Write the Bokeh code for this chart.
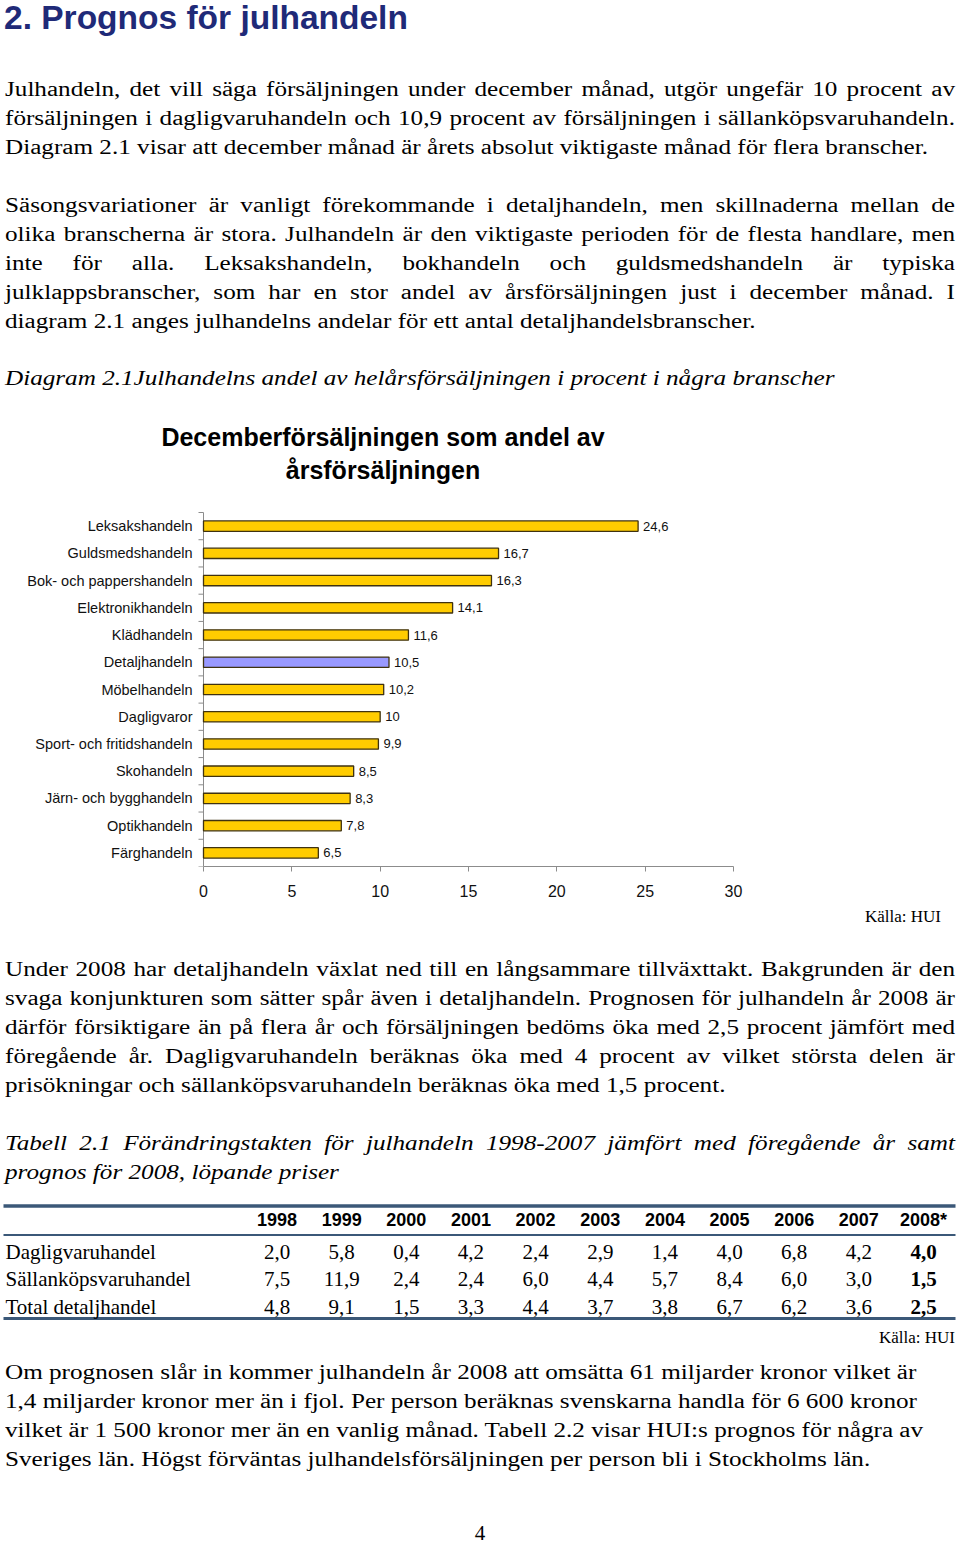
import math
from bokeh.plotting import figure
from bokeh.models import Range1d, FixedTicker, Div, ColumnDataSource
from bokeh.layouts import column
from bokeh.embed import file_html
from bokeh.resources import INLINE
from bokeh.core.properties import value

# ---------------- data ----------------
heading = "2. Prognos för julhandeln"

para1 = [
    "Julhandeln, det vill säga försäljningen under december månad, utgör ungefär 10 procent av",
    "försäljningen i dagligvaruhandeln och 10,9 procent av försäljningen i sällanköpsvaruhandeln.",
    "Diagram 2.1 visar att december månad är årets absolut viktigaste månad för flera branscher.",
]
para2 = [
    "Säsongsvariationer är vanligt förekommande i detaljhandeln, men skillnaderna mellan de",
    "olika branscherna är stora. Julhandeln är den viktigaste perioden för de flesta handlare, men",
    "inte för alla. Leksakshandeln, bokhandeln och guldsmedshandeln är typiska",
    "julklappsbranscher, som har en stor andel av årsförsäljningen just i december månad. I",
    "diagram 2.1 anges julhandelns andelar för ett antal detaljhandelsbranscher.",
]
diagram_caption = "Diagram 2.1Julhandelns andel av helårsförsäljningen i procent i några branscher"
chart_title = ["Decemberförsäljningen som andel av", "årsförsäljningen"]

categories = [
    "Leksakshandeln", "Guldsmedshandeln", "Bok- och pappershandeln", "Elektronikhandeln",
    "Klädhandeln", "Detaljhandeln", "Möbelhandeln", "Dagligvaror",
    "Sport- och fritidshandeln", "Skohandeln", "Järn- och bygghandeln", "Optikhandeln",
    "Färghandeln",
]
shares = [24.6, 16.7, 16.3, 14.1, 11.6, 10.5, 10.2, 10, 9.9, 8.5, 8.3, 7.8, 6.5]
highlight = "Detaljhandeln"
x_ticks = [0, 5, 10, 15, 20, 25, 30]
x_max = 30
source_note = "Källa: HUI"

para3 = [
    "Under 2008 har detaljhandeln växlat ned till en långsammare tillväxttakt. Bakgrunden är den",
    "svaga konjunkturen som sätter spår även i detaljhandeln. Prognosen för julhandeln år 2008 är",
    "därför försiktigare än på flera år och försäljningen bedöms öka med 2,5 procent jämfört med",
    "föregående år. Dagligvaruhandeln beräknas öka med 4 procent av vilket största delen är",
    "prisökningar och sällanköpsvaruhandeln beräknas öka med 1,5 procent.",
]
table_caption = [
    "Tabell 2.1 Förändringstakten för julhandeln 1998-2007 jämfört med föregående år samt",
    "prognos för 2008, löpande priser",
]
years = ["1998", "1999", "2000", "2001", "2002", "2003", "2004", "2005", "2006", "2007", "2008*"]
row_names = ["Dagligvaruhandel", "Sällanköpsvaruhandel", "Total detaljhandel"]
dagligvaruhandel = [2.0, 5.8, 0.4, 4.2, 2.4, 2.9, 1.4, 4.0, 6.8, 4.2, 4.0]
sallankopsvaruhandel = [7.5, 11.9, 2.4, 2.4, 6.0, 4.4, 5.7, 8.4, 6.0, 3.0, 1.5]
total_detaljhandel = [4.8, 9.1, 1.5, 3.3, 4.4, 3.7, 3.8, 6.7, 6.2, 3.6, 2.5]
para4 = [
    "Om prognosen slår in kommer julhandeln år 2008 att omsätta 61 miljarder kronor vilket är",
    "1,4 miljarder kronor mer än i fjol. Per person beräknas svenskarna handla för 6 600 kronor",
    "vilket är 1 500 kronor mer än en vanlig månad. Tabell 2.2 visar HUI:s prognos för några av",
    "Sveriges län. Högst förväntas julhandelsförsäljningen per person bli i Stockholms län.",
]
page_number = "4"

# ---------------- styling / layout ----------------
W = 960
TEXT_L = 5
TEXT_W = 950
SX = 1.21         # horizontal stretch of the body text
BODY_FS = 20.8
LH = 29
BASE = 21.5       # baseline offset inside a 29px line box
SERIF = "'Liberation Serif', 'Times New Roman', serif"
SANS = "'Liberation Sans', Arial, sans-serif"


def body_lines(lines, first_baseline, justify=True, italic=False):
    out = []
    for k, t in enumerate(lines):
        top = first_baseline + k * LH - BASE
        is_last = (k == len(lines) - 1)
        ta_last = "justify" if (justify and not is_last) else "left"
        style = (
            f"position:absolute;left:{TEXT_L}px;top:{top:.1f}px;width:{TEXT_W / SX:.2f}px;"
            f"font-family:{SERIF};font-size:{BODY_FS}px;line-height:{LH}px;"
            f"font-style:{'italic' if italic else 'normal'};color:#000;"
            f"text-align:{'justify' if justify else 'left'};text-align-last:{ta_last};"
            f"transform:scaleX({SX});transform-origin:0 0;"
        )
        out.append(f'<div style="{style}">{t}</div>')
    return "".join(out)


def wrap(inner, h):
    return (f'<div style="position:relative;width:{W}px;height:{h}px;margin:0;padding:0;'
            f'overflow:hidden;">{inner}</div>')


# ---- top block (y 0..500) ----
H1 = 500
top_html = []
top_html.append(
    f'<div style="position:absolute;left:4px;top:1.4px;font-family:{SANS};font-weight:bold;'
    f'font-size:33.5px;line-height:34px;color:#1f2a78;white-space:nowrap;">{heading}</div>')
top_html.append(body_lines(para1, 95))
top_html.append(body_lines(para2, 211))
top_html.append(body_lines([diagram_caption], 384, justify=False, italic=True))
for k, t in enumerate(chart_title):
    top = 446 + 33 * k - 25.2
    top_html.append(
        f'<div style="position:absolute;left:8px;top:{top:.1f}px;width:750px;text-align:center;'
        f'font-family:{SANS};font-weight:bold;font-size:25px;line-height:33px;color:#000;'
        f'white-space:nowrap;">{t}</div>')
div_top = Div(text=wrap("".join(top_html), H1), width=W, height=H1, margin=0)

# ---- bar chart (y 500..906) ----
CH = 406
BOTTOM = 40
X0_PX, X30_PX = 203, 733          # pixel columns of x=0 and x=30
Y_TOP_PX, Y_BOT_PX = 512, 866     # top / bottom of category area (page px)
FIG_TOP = 500
px_per_x = (X30_PX - X0_PX) / x_max
n = len(categories)
px_per_y = (Y_BOT_PX - Y_TOP_PX) / (2 * n)
x_start = -X0_PX / px_per_x
x_end = (W - X0_PX) / px_per_x
y_end = 2 * n + (Y_TOP_PX - FIG_TOP) / px_per_y

ypos = [2 * (n - 1 - i) + 1 for i in range(n)]
bounds_y = list(range(0, 2 * n + 1, 2))
colors = ["#9999FF" if c == highlight else "#FFCC00" for c in categories]
labels = [f"{v:g}".replace(".", ",") for v in shares]
src = ColumnDataSource(dict(y=ypos, v=shares, c=colors, lab=labels, cat=categories))

axis_gray = "#8c8c8c"
p = figure(width=W, height=CH, x_range=Range1d(x_start, x_end), y_range=Range1d(0, y_end),
           output_backend="svg", toolbar_location=None, y_axis_type=None,
           min_border_left=0, min_border_right=0, min_border_top=0, min_border_bottom=BOTTOM)
p.xgrid.visible = False
p.outline_line_color = None
p.background_fill_color = "white"
p.border_fill_color = "white"

# y axis line and boundary ticks
p.segment(x0=[0], x1=[0], y0=[0], y1=[2 * n], line_color=axis_gray, line_width=1)
p.ray(x=[0] * len(bounds_y), y=bounds_y, length=5, length_units="screen", angle=math.pi,
      line_color=axis_gray, line_width=1)
# category labels
p.text(x=0, y="y", text="cat", x_offset=-11, text_align="right", text_baseline="middle",
       text_font=value("Liberation Sans"), text_font_size="14.5px", text_color="#111",
       source=src)
# bars
p.hbar(y="y", left=0, right="v", height=0.76, fill_color="c", line_color="#3f3210",
       line_width=1.3, source=src)
p.text(x="v", y="y", text="lab", x_offset=5, text_baseline="middle", text_align="left",
       text_font=value("Liberation Sans"), text_font_size="13px", text_color="#111", source=src)

xa = p.xaxis[0]
xa.ticker = FixedTicker(ticks=x_ticks)
xa.bounds = (0, x_max)
xa.axis_line_color = axis_gray
xa.major_tick_line_color = axis_gray
xa.major_tick_out = 5
xa.major_tick_in = 0
xa.minor_tick_line_color = None
xa.major_label_standoff = 13
xa.major_label_text_font = "Liberation Sans"
xa.major_label_text_font_size = "16px"
xa.major_label_text_color = "#111"

# ---- middle text block (y 906..1195) ----
H2 = 289
off2 = 906
mid_html = []
mid_html.append(
    f'<div style="position:absolute;right:{W - 941}px;top:{922.3 - 15.7 - off2:.1f}px;'
    f'font-family:{SERIF};font-size:17px;line-height:20px;color:#000;white-space:nowrap;">'
    f'{source_note}</div>')
mid_html.append(body_lines(para3, 975 - off2))
mid_html.append(body_lines(table_caption, 1149 - off2, italic=True))
div_mid = Div(text=wrap("".join(mid_html), H2), width=W, height=H2, margin=0)

# ---- table (y 1195..1322) ----
TOP_T, BOT_T = 1195, 1322
COL0 = 276.5    # page-px centre of first year column
COLW = 64.65    # column pitch
tx0 = (0 - COL0) / COLW
tx1 = (W - COL0) / COLW
lab_x = (5 - COL0) / COLW
rule_x0 = (3 - COL0) / COLW
rule_x1 = (955 - COL0) / COLW
t = figure(width=W, height=BOT_T - TOP_T, x_range=Range1d(tx0, tx1),
           y_range=Range1d(BOT_T, TOP_T), output_backend="svg", toolbar_location=None,
           x_axis_type=None, y_axis_type=None, min_border=0)
t.outline_line_color = None
rule_color = "#3b5878"
rule_y = [1205.5, 1234.5, 1318]
t.segment(x0=[rule_x0] * 3, x1=[rule_x1] * 3, y0=rule_y, y1=rule_y,
          line_width=[3.5, 2, 3], line_color=rule_color)
col_idx = list(range(len(years)))
t.text(x=col_idx, y=[1219] * len(years), text=years, text_align="center",
       text_baseline="alphabetic", text_font=value("Liberation Sans"), text_font_style="bold",
       text_font_size="18px", text_color="#000")
row_base = [1251.3, 1278.3, 1306.3]
table_vals = [dagligvaruhandel, sallankopsvaruhandel, total_detaljhandel]
t.text(x=[lab_x] * 3, y=row_base, text=row_names, text_align="left", text_baseline="alphabetic",
       text_font=value("Liberation Serif"), text_font_size="21px", text_color="#000")
for yb, vals in zip(row_base, table_vals):
    strs = [f"{v:.1f}".replace(".", ",") for v in vals]
    t.text(x=col_idx[:-1], y=[yb] * (len(vals) - 1), text=strs[:-1], text_align="center",
           text_baseline="alphabetic", text_font=value("Liberation Serif"),
           text_font_size="21px", text_color="#000")
    t.text(x=col_idx[-1:], y=[yb], text=strs[-1:], text_align="center",
           text_baseline="alphabetic", text_font=value("Liberation Serif"),
           text_font_style="bold", text_font_size="21px", text_color="#000")

# ---- bottom text block (y 1322..1544) ----
H3 = 1544 - BOT_T
off3 = BOT_T
bot_html = []
bot_html.append(
    f'<div style="position:absolute;right:{W - 955}px;top:{1343.3 - 15.7 - off3:.1f}px;'
    f'font-family:{SERIF};font-size:17px;line-height:20px;color:#000;white-space:nowrap;">'
    f'{source_note}</div>')
bot_html.append(body_lines(para4, 1378 - off3, justify=False))
bot_html.append(
    f'<div style="position:absolute;left:430px;width:100px;text-align:center;'
    f'top:{1540 - 19.1 - off3:.1f}px;font-family:{SERIF};font-size:21px;line-height:24px;'
    f'color:#000;">{page_number}</div>')
div_bot = Div(text=wrap("".join(bot_html), H3), width=W, height=H3, margin=0)

layout = column(div_top, p, div_mid, t, div_bot, spacing=0)
open("out.html", "w").write(file_html(layout, INLINE))
